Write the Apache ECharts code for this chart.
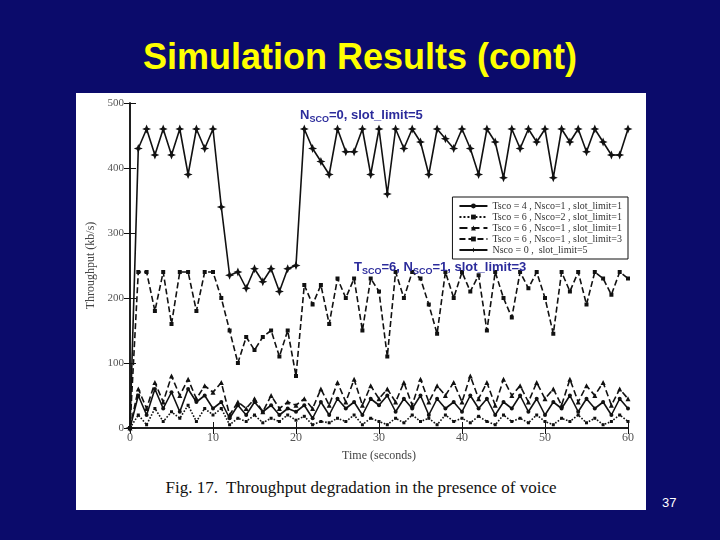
<!DOCTYPE html>
<html><head><meta charset="utf-8">
<script src="https://cdn.jsdelivr.net/npm/echarts@6/dist/echarts.min.js"></script>
<style>
html,body{margin:0;padding:0;background:#0b0b6b;}
#title{position:absolute;left:0;top:36px;width:720px;text-align:center;color:#ffff00;font:bold 36px "Liberation Sans",Arial,sans-serif;}
#panel{position:absolute;left:76px;top:93px;width:570px;height:417px;background:#fff;}
#chart{position:absolute;left:76px;top:93px;width:570px;height:380px;}
#cap{position:absolute;left:76px;top:478px;width:570px;text-align:center;font:17px "Liberation Serif","DejaVu Serif",serif;color:#111;}
#pg{position:absolute;left:662px;top:495px;color:#fff;font:13px "Liberation Sans",sans-serif;}
</style></head><body>
<div id="title">Simulation Results (cont)</div>
<div id="panel"></div>
<div id="chart"></div>
<div id="cap">Fig. 17.&nbsp; Throughput degradation in the presence of voice</div>
<div id="pg">37</div>
<script>
var times=[];for(var i=0;i<=60;i++)times.push(i);
var seriesNames=["Tsco = 4 , Nsco=1 , slot_limit=1","Tsco = 6 , Nsco=2 , slot_limit=1","Tsco = 6 , Nsco=1 , slot_limit=1","Tsco = 6 , Nsco=1 , slot_limit=3","Nsco = 0 ,  slot_limit=5"];
var tsco4=[0,50,20,60,30,55,25,60,40,50,30,40,15,35,20,40,25,35,20,30,25,35,15,40,20,45,30,40,20,45,35,50,25,45,30,50,20,45,30,40,25,50,30,45,20,40,30,50,25,45,20,40,30,50,25,45,30,40,20,45,30];
var tsco6n2=[0,20,5,30,10,25,15,35,10,30,20,30,5,15,10,20,8,15,10,20,12,18,5,10,8,15,10,20,5,15,10,5,15,8,20,10,15,5,20,10,15,8,18,10,5,20,10,15,8,20,10,5,15,10,20,8,15,5,10,20,10];
var tsco6s1=[0,60,30,70,40,80,50,75,45,65,55,70,20,40,30,45,25,50,30,40,35,45,30,60,35,70,40,75,35,65,45,60,40,70,35,75,40,65,50,70,40,80,45,70,35,75,50,65,40,70,45,60,35,75,40,65,50,70,35,60,45];
var tsco6s3=[0,240,240,180,240,160,240,240,180,240,240,200,150,100,140,120,140,150,110,150,80,220,190,220,160,230,200,230,150,230,210,110,240,200,240,230,190,145,240,200,240,210,235,150,240,200,170,240,215,240,200,145,240,210,240,190,240,230,205,240,230];
var nsco0=[0,430,460,420,460,420,460,390,460,430,460,340,235,240,215,245,225,245,210,245,250,460,430,410,390,460,425,425,460,390,460,360,460,430,460,440,390,460,445,430,460,430,390,460,440,385,460,430,460,440,460,385,460,440,460,425,460,440,420,420,460];
function pairs(a){return times.map(function(t,i){return [t,a[i]];});}
var styles=[
 {sym:'circle',type:'solid',size:4},
 {sym:'rect',type:'dotted',size:3},
 {sym:'triangle',type:'dashed',size:5},
 {sym:'rect',type:[6,3],size:4},
 {sym:'path://M0,-10L3,-3L10,0L3,3L0,10L-3,3L-10,0L-3,-3Z',type:'solid',size:9}];
var data=[tsco4,tsco6n2,tsco6s1,tsco6s3,nsco0];
var ser=data.map(function(d,k){return {name:seriesNames[k],type:'line',data:pairs(d),symbol:styles[k].sym,symbolSize:styles[k].size,
 lineStyle:{color:'#111',width:1.6,type:styles[k].type},itemStyle:{color:'#111'},animation:false};});
var serif='"Liberation Serif","DejaVu Serif",serif';
var ch=echarts.init(document.getElementById('chart'));
ch.setOption({
 grid:{left:54,right:18,top:10,bottom:45},
 legend:{data:seriesNames,orient:'vertical',right:18,top:104,itemWidth:28,itemHeight:6,itemGap:1,padding:[4,6],
  backgroundColor:'#fff',borderColor:'#111',borderWidth:1,textStyle:{fontFamily:serif,fontSize:10,color:'#333'}},
 xAxis:[{type:'value',min:0,max:60,interval:10,name:'Time (seconds)',nameLocation:'middle',nameGap:22,
  nameTextStyle:{fontFamily:serif,fontSize:12,color:'#444'},axisLine:{lineStyle:{color:'#111',width:1.5}},
  axisTick:{inside:true,length:6,lineStyle:{color:'#111'}},axisLabel:{fontFamily:serif,fontSize:12,color:'#555',margin:4},splitLine:{show:false}},
  {type:'value',min:0,max:60,interval:10,position:'top',axisLine:{lineStyle:{color:'#111',width:1.5}},axisTick:{inside:true,length:6,lineStyle:{color:'#111'}},axisLabel:{show:false},splitLine:{show:false}}],
 yAxis:[{type:'value',min:0,max:500,interval:100,name:'Throughput (kb/s)',nameLocation:'middle',nameGap:30,
  nameTextStyle:{fontFamily:serif,fontSize:12,color:'#444'},axisLine:{lineStyle:{color:'#111',width:1.5}},
  axisTick:{inside:true,length:6,lineStyle:{color:'#111'}},axisLabel:{fontFamily:serif,fontSize:11,color:'#555',margin:6},splitLine:{show:false}},
  {type:'value',min:0,max:500,interval:100,position:'right',axisLine:{lineStyle:{color:'#111',width:1.5}},axisTick:{inside:true,length:6,lineStyle:{color:'#111'}},axisLabel:{show:false},splitLine:{show:false}}],
 graphic:[
  {type:'text',left:224,top:16,z:100,style:{text:'{n|N}{s|SCO}{n|=0, slot_limit=5}',rich:{n:{fontSize:13,fontWeight:'bold',fill:'#2b2b9b',fontFamily:'Liberation Sans'},s:{fontSize:9,fontWeight:'bold',fill:'#2b2b9b',padding:[8,0,0,0],fontFamily:'Liberation Sans'}}}},
  {type:'text',left:278,top:168,z:100,style:{text:'{n|T}{s|SCO}{n|=6, N}{s|SCO}{n|=1, slot_limit=3}',rich:{n:{fontSize:13,fontWeight:'bold',fill:'#2b2b9b',fontFamily:'Liberation Sans'},s:{fontSize:9,fontWeight:'bold',fill:'#2b2b9b',padding:[8,0,0,0],fontFamily:'Liberation Sans'}}}}
 ],
 series:ser
});
</script></body></html>
